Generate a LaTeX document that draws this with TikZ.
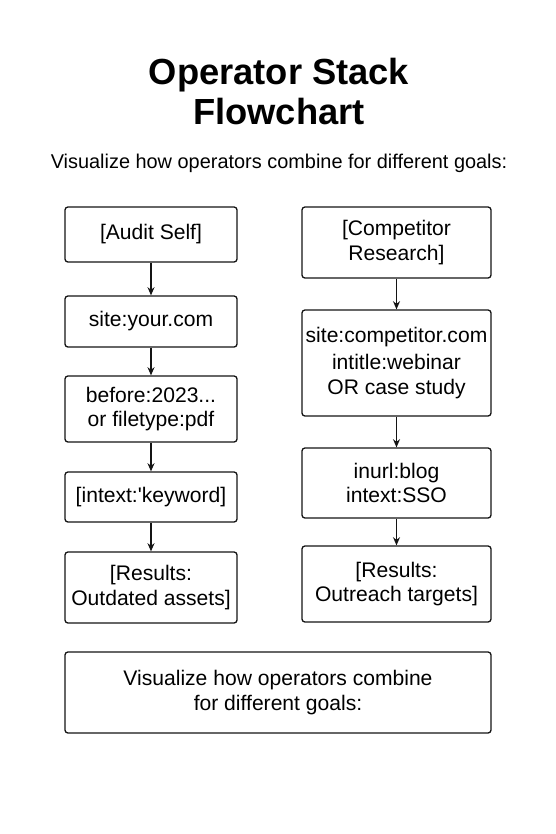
\documentclass[tikz,border=0pt]{standalone}
\usepackage{fontspec}
\setmainfont{Liberation Sans}
\usepackage{tikz}
\newcommand{\leftwidth}{5.16cm}
\newcommand{\rightwidth}{5.67cm}
\definecolor{myInk}{RGB}{20,20,20}
\usetikzlibrary{arrows.meta,positioning}
\tikzset{
  >={Stealth[length=7pt,width=6pt]},
  font=\fontsize{18pt}{21pt}\selectfont,
  rect/.style={draw=myInk,line width=1.1pt,rounded corners=2.5pt,shape=rectangle,align=center,inner sep=1mm},
  lcol/.style={rect,minimum width=\leftwidth},
  rcol/.style={rect,minimum width=\rightwidth},
  line/.style={draw=myInk,->,line width=1.1pt},
}
\begin{document}
\begin{tikzpicture}
      \useasboundingbox (0,0) rectangle (16.68,-25.02);
      \node (t1) at (8.37,-2.25) {\fontsize{31pt}{36pt}\selectfont\bfseries Operator Stack};
      \node (t2) at (8.37,-3.35) {\fontsize{31pt}{36pt}\selectfont\bfseries Flowchart};
      \node (sub) at (8.37,-4.89) {\fontsize{17pt}{20pt}\selectfont Visualize how operators combine for different goals:};
      % audit self
      \node (a1) [lcol,minimum height=1.65cm] at (4.53,-7.035) {[Audit Self]};
      \node (a2) [lcol,minimum height=1.53cm] at (4.53,-9.645) {site:your.com};
      \node (a3) [lcol,minimum height=1.98cm] at (4.53,-12.27) {before:2023...\\or filetype:pdf};
      \node (a4) [lcol,minimum height=1.5cm] at (4.53,-14.91) {[intext:\textquotesingle keyword]};
      \node (a5) [lcol,minimum height=2.13cm] at (4.53,-17.625) {[Results:\\Outdated assets]};
      % competitor research
      \node (c1) [rcol,minimum height=2.13cm] at (11.895,-7.275) {[Competitor\\Research]};
      \node (c2) [rcol,minimum height=3.18cm] at (11.895,-10.89) {site:competitor.com\\[2pt]intitle:webinar\\OR case study};
      \node (c3) [rcol,minimum height=2.1cm] at (11.895,-14.49) {inurl:blog\\intext:SSO};
      \node (c4) [rcol,minimum height=2.28cm] at (11.895,-17.52) {[Results:\\Outreach targets]};
      \node (note) [rect,minimum width=12.78cm,minimum height=2.43cm] at (8.34,-20.775) {Visualize how operators combine\\for different goals:};
      \path [line] (a1) -- (a2);
      \path [line] (a2) -- (a3);
      \path [line] (a3) -- (a4);
      \path [line] (a4) -- (a5);
      \path [line] (c1) -- (c2);
      \path [line] (c2) -- (c3);
      \path [line] (c3) -- (c4);
    \end{tikzpicture}
\end{document}
